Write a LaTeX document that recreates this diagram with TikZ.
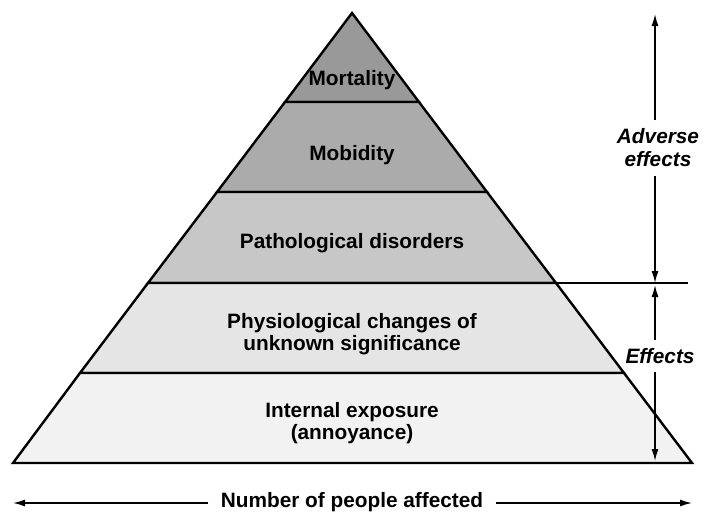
\documentclass[tikz,border=0pt]{standalone}
\usepackage{fontspec}
\setmainfont{Liberation Sans}
\usetikzlibrary{arrows.meta}

\begin{document}
\begin{tikzpicture}[x=0.5pt,y=-0.5pt,
    layer/.style={draw=black, line width=1.2pt, line join=miter},
    lbl/.style={font=\bfseries\fontsize{10.4}{11}\selectfont, align=center, inner sep=1pt},
    side/.style={font=\bfseries\itshape\fontsize{10.4}{11.5}\selectfont, align=center, inner sep=1pt},
    dim/.style={line width=0.75pt, -{Latex[length=6pt,width=3.5pt]}}]
  \useasboundingbox[fill=white] (0,0) rectangle (704,515);
  % pyramid layers
  \filldraw[layer, fill=black!40] (352,13) -- (419,102) -- (285,102) -- cycle;
  \filldraw[layer, fill=black!33] (285,102) -- (419,102) -- (487,192) -- (217,192) -- cycle;
  \filldraw[layer, fill=black!22] (217,192) -- (487,192) -- (556,283) -- (148,283) -- cycle;
  \filldraw[layer, fill=black!10] (148,283) -- (556,283) -- (624,373) -- (80,373) -- cycle;
  \filldraw[layer, fill=black!5] (80,373) -- (624,373) -- (692,463) -- (13,463) -- cycle;
  \draw[line width=1.2pt] (556,283) -- (688,283);
  \node[lbl] (mort) at (352,80) {Mortality};
  \node[lbl] (mob) at (352,155) {Mobidity};
  \node[lbl] (path) at (352,243) {Pathological disorders};
  \node[lbl] (phys) at (352,334) {Physiological changes of\\unknown significance};
  \node[lbl] (intx) at (352,423) {Internal exposure\\(annoyance)};
  % right side
  \node[side, inner ysep=4pt] (adv) at (658,148) {Adverse\\effects};
  \node[side, inner ysep=4pt] (eff) at (660,356) {Effects};
  \coordinate (advtop) at (655,14);
  \coordinate (advbot) at (655,283);
  \coordinate (efftop) at (655,285);
  \coordinate (effbot) at (655,461);
  \draw[dim] (adv.north -| advtop) -- (advtop);
  \draw[dim] (adv.south -| advtop) -- (advbot);
  \draw[dim] (eff.north -| efftop) -- (efftop);
  \draw[dim] (eff.south -| efftop) -- (effbot);
  % bottom
  \node[lbl, inner xsep=6pt] (num) at (352,502) {Number of people affected};
  \coordinate (numl) at (13,503);
  \coordinate (numr) at (692,503);
  \draw[dim] (num.west |- numl) -- (numl);
  \draw[dim] (num.east |- numr) -- (numr);
\end{tikzpicture}
\end{document}
